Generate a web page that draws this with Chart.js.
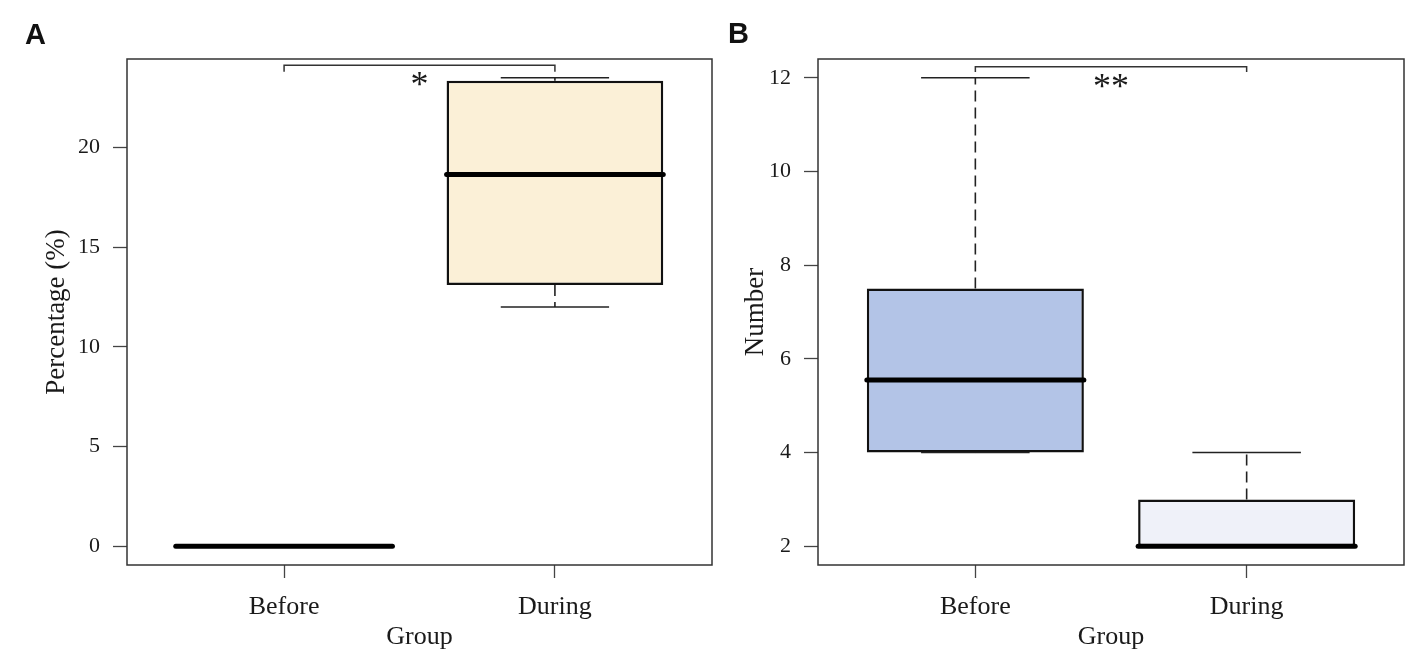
<!DOCTYPE html>
<html>
<head>
<meta charset="utf-8">
<script src="https://cdn.jsdelivr.net/npm/chart.js@4.4.1/dist/chart.umd.min.js"></script>
<style>
  html, body { margin: 0; padding: 0; background: #fff; }
  #wrap { position: relative; width: 1418px; height: 664px; overflow: hidden; }
  .panel { position: absolute; top: 0; }
  .tag { position: absolute; font: bold 29px "Liberation Sans", Arial, sans-serif; line-height: 29px; color: #111; }
</style>
</head>
<body>
<div id="wrap">
  <div class="panel" style="left:0"><canvas id="chartA" width="725" height="664"></canvas></div>
  <div class="panel" style="left:725px"><canvas id="chartB" width="693" height="664"></canvas></div>
  <div class="tag" style="left:25px;top:20px">A</div>
  <div class="tag" style="left:728px;top:19px">B</div>
</div>
<script>
const categories = ['Before', 'During'];

// panel A - percentage (%)
const pctMin    = [0, 12.0];
const pctQ1     = [0, 13.1];
const pctMedian = [0, 18.65];
const pctQ3     = [0, 23.35];
const pctMax    = [0, 23.5];
const pctTicks  = [0, 5, 10, 15, 20];

// panel B - number
const numMin    = [4, 2];
const numQ1     = [4, 2];
const numMedian = [5.55, 2];
const numQ3     = [7.5, 3];
const numMax    = [12, 4];
const numTicks  = [2, 4, 6, 8, 10, 12];

// significance brackets (value units)
const sigA = { from: 1, to: 2, level: 24.13, drop: 23.8, text: '*', at: 1.5, textY: 23.08 };
const sigB = { from: 1, to: 2, level: 12.236, drop: 12.12, text: '**', at: 1.5, textY: 11.78 };

const serif = '"Liberation Serif", "Times New Roman", serif';
const ink = '#1a1a1a';

function boxPlugin(p) {
  return {
    id: 'boxExtras',
    afterDatasetsDraw(chart) {
      const { ctx, chartArea, scales: { x, y } } = chart;
      const bars = chart.getDatasetMeta(0).data;
      const line = (x1, y1, x2, y2) => { ctx.beginPath(); ctx.moveTo(x1, y1); ctx.lineTo(x2, y2); ctx.stroke(); };
      ctx.save();
      categories.forEach((c, i) => {
        const bar = bars[i];
        const cx = bar.x, half = bar.width / 2, cap = half / 2;
        const yMin = y.getPixelForValue(p.min[i]), yMax = y.getPixelForValue(p.max[i]);
        const yQ1 = y.getPixelForValue(p.q1[i]), yQ3 = y.getPixelForValue(p.q3[i]);
        ctx.strokeStyle = '#222';
        ctx.lineWidth = 1.6;
        ctx.setLineDash([11, 6]);
        line(cx, yQ3, cx, yMax);
        line(cx, yQ1, cx, yMin);
        ctx.setLineDash([]);
        line(cx - cap, yMax, cx + cap, yMax);
        line(cx - cap, yMin, cx + cap, yMin);
        ctx.strokeStyle = '#000';
        ctx.lineWidth = 5;
        ctx.lineCap = 'round';
        const yMed = y.getPixelForValue(p.median[i]);
        line(cx - half, yMed, cx + half, yMed);
        ctx.lineCap = 'butt';
      });

      // bracket + stars
      const s = p.sig;
      const x1 = x.getPixelForValue(s.from), x2 = x.getPixelForValue(s.to);
      const yl = y.getPixelForValue(s.level), yd = y.getPixelForValue(s.drop);
      ctx.strokeStyle = '#333';
      ctx.lineWidth = 1.5;
      ctx.beginPath();
      ctx.moveTo(x1, yd); ctx.lineTo(x1, yl); ctx.lineTo(x2, yl); ctx.lineTo(x2, yd);
      ctx.stroke();
      ctx.fillStyle = ink;
      ctx.font = '36px ' + serif;
      ctx.textAlign = 'center';
      ctx.textBaseline = 'middle';
      ctx.fillText(s.text, x.getPixelForValue(s.at), y.getPixelForValue(s.textY));

      // frame
      ctx.strokeStyle = '#333';
      ctx.lineWidth = 1.5;
      ctx.strokeRect(chartArea.left, chartArea.top, chartArea.right - chartArea.left, chartArea.bottom - chartArea.top);
      ctx.restore();
    }
  };
}

function boxChart(id, p) {
  const ctx = document.getElementById(id).getContext('2d');
  return new Chart(ctx, {
    type: 'bar',
    data: {
      datasets: [{
        data: categories.map((c, i) => ({ x: i + 1, y: [p.q1[i], p.q3[i]] })),
        backgroundColor: p.fill,
        borderColor: '#111',
        borderWidth: 2.5,
        borderSkipped: false,
        barPercentage: 0.8,
        categoryPercentage: 1.0
      }]
    },
    options: {
      responsive: false,
      animation: false,
      layout: { padding: { top: 59, right: p.padRight, left: 0, bottom: 0 } },
      plugins: { legend: { display: false }, tooltip: { enabled: false } },
      scales: {
        x: {
          type: 'linear',
          min: 0.42,
          max: 2.58,
          offset: false,
          afterBuildTicks: s => { s.ticks = categories.map((c, i) => ({ value: i + 1 })); },
          afterFit: s => { s.height = 99; },
          grid: { drawOnChartArea: false, drawTicks: true, tickLength: 13, tickColor: '#444', tickWidth: 1.3, offset: false },
          border: { display: false },
          ticks: {
            callback: v => categories[v - 1],
            font: { family: serif, size: 26 },
            color: ink,
            padding: 14,
            maxRotation: 0,
            autoSkip: false
          },
          title: { display: true, text: 'Group', color: ink, font: { family: serif, size: 26 }, padding: { top: 0, bottom: 11 } }
        },
        y: {
          min: p.yMin,
          max: p.yMax,
          afterBuildTicks: s => { s.ticks = p.ticks.map(v => ({ value: v })); },
          afterFit: s => { s.width = p.axisWidth; },
          grid: { drawOnChartArea: false, drawTicks: true, tickLength: 14, tickColor: '#444', tickWidth: 1.3 },
          border: { display: false },
          ticks: { font: { family: serif, size: 22 }, color: ink, padding: 13 },
          title: { display: true, text: p.title, color: ink, font: { family: serif, size: 27 }, padding: { top: p.titlePad, bottom: 0 } }
        }
      }
    },
    plugins: [boxPlugin(p)]
  });
}

boxChart('chartA', {
  min: pctMin, q1: pctQ1, median: pctMedian, q3: pctQ3, max: pctMax, ticks: pctTicks,
  yMin: -0.94, yMax: 24.44, sig: sigA,
  fill: '#FBF0D7', title: 'Percentage (%)', axisWidth: 127, titlePad: 41, padRight: 13
});

boxChart('chartB', {
  min: numMin, q1: numQ1, median: numMedian, q3: numQ3, max: numMax, ticks: numTicks,
  yMin: 1.6, yMax: 12.4, sig: sigB,
  fill: ['#B3C4E7', '#EFF1F9'], title: 'Number', axisWidth: 93, titlePad: 15, padRight: 14
});
</script>
</body>
</html>
